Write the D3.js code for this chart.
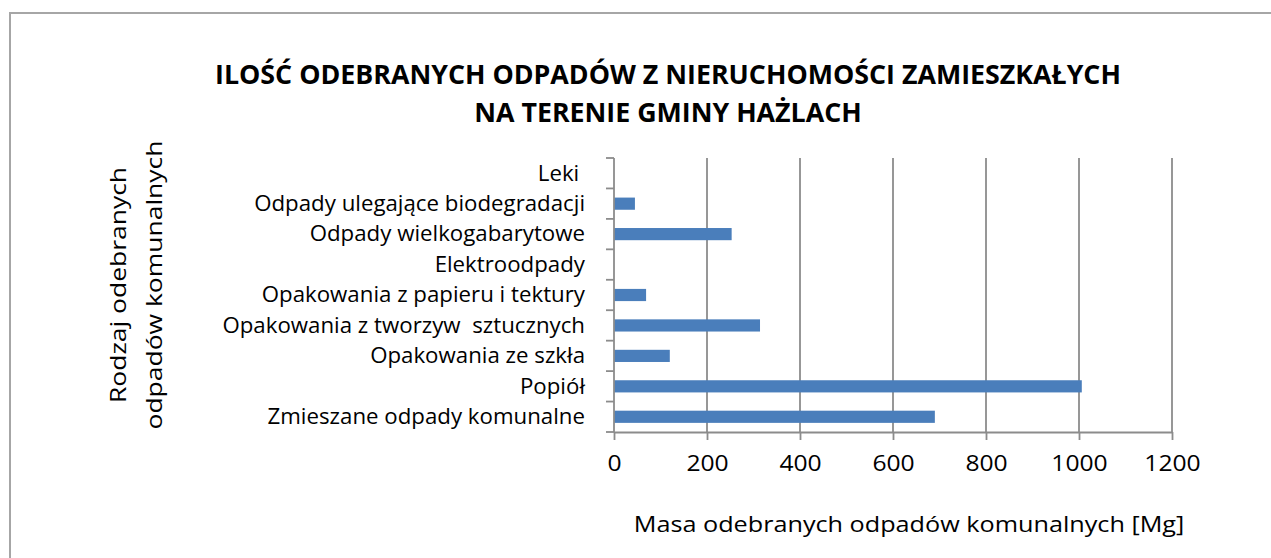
<!DOCTYPE html>
<html>
<head>
<meta charset="utf-8">
<script src="https://cdn.jsdelivr.net/npm/d3@7"></script>
<style>
  body { margin: 0; background: #fff; }
  text { font-family: "Open Sans", sans-serif; fill: #000; }
</style>
</head>
<body>
<div id="chart"></div>
<script>
const categories = [
  'Leki\u00a0',
  'Odpady ulegające biodegradacji',
  'Odpady wielkogabarytowe',
  'Elektroodpady',
  'Opakowania z papieru i tektury',
  'Opakowania z tworzyw\u00a0 sztucznych',
  'Opakowania ze szkła',
  'Popiół',
  'Zmieszane odpady komunalne'
];
const values = [0, 45, 253, 0, 69, 314, 120, 1006, 690];
const xTicks = [0, 200, 400, 600, 800, 1000, 1200];
const titleLines = ['ILOŚĆ ODEBRANYCH ODPADÓW Z NIERUCHOMOŚCI ZAMIESZKAŁYCH', 'NA TERENIE GMINY HAŻLACH'];
const yTitleLines = ['Rodzaj odebranych', 'odpadów komunalnych'];
const xTitle = 'Masa odebranych odpadów komunalnych [Mg]';

const W = 1271, H = 558;
const margin = { top: 158, right: 99, bottom: 126, left: 614 };
const width = W - margin.left - margin.right;
const height = H - margin.top - margin.bottom;

// the source picture is a bit wider than the font, so widen text a little
function stretch(sel, k) {
  sel.each(function () {
    const n = this.getComputedTextLength();
    d3.select(this).attr('textLength', n * k).attr('lengthAdjust', 'spacingAndGlyphs');
  });
}

const svg = d3.select('#chart')
  .append('svg')
  .attr('width', W)
  .attr('height', H);

// outer chart frame (runs off the right and bottom edges)
svg.append('rect')
  .attr('x', 10).attr('y', 13)
  .attr('width', 1400).attr('height', 700)
  .attr('fill', 'none')
  .attr('stroke', '#a6a6a6')
  .attr('stroke-width', 2);

const g = svg.append('g')
  .attr('transform', `translate(${margin.left},${margin.top})`);

const x = d3.scaleLinear().domain([0, 1200]).range([0, width]);
const y = d3.scaleBand().domain(categories).range([0, height]).paddingInner(0.6).paddingOuter(0.3);
const yb = d3.scaleBand().domain(categories).range([0, height]);

// vertical gridlines
g.append('g')
  .selectAll('line')
  .data(xTicks.slice(1))
  .join('line')
  .attr('x1', d => x(d)).attr('x2', d => x(d))
  .attr('y1', 0).attr('y2', height)
  .attr('stroke', '#8c8c8c')
  .attr('stroke-width', 1.8);

// bars
g.append('g')
  .selectAll('rect')
  .data(values)
  .join('rect')
  .attr('x', x(0))
  .attr('y', (d, i) => y(categories[i]))
  .attr('width', d => x(d) - x(0))
  .attr('height', y.bandwidth())
  .attr('fill', '#4a7ebb');

// x axis
const xAxis = g.append('g')
  .attr('transform', `translate(0,${height})`)
  .call(d3.axisBottom(x).tickValues(xTicks).tickFormat(d3.format('d'))
    .tickSize(8).tickPadding(15).tickSizeOuter(0));
xAxis.select('.domain').attr('stroke', '#8c8c8c').attr('stroke-width', 1.8);
xAxis.selectAll('.tick line').attr('stroke', '#8c8c8c').attr('stroke-width', 1.8);
xAxis.selectAll('.tick text')
  .style('font-family', '"Open Sans", sans-serif')
  .style('font-size', '22px')
  .attr('fill', '#000')
  .call(stretch, 1.12);

// y axis: ticks at band boundaries
g.append('line')
  .attr('x1', 0).attr('x2', 0).attr('y1', 0).attr('y2', height)
  .attr('stroke', '#8c8c8c').attr('stroke-width', 1.8);
g.append('g')
  .selectAll('line')
  .data(categories.concat(['end']))
  .join('line')
  .attr('x1', -8).attr('x2', 0)
  .attr('y1', (d, i) => i < categories.length ? yb(d) : height)
  .attr('y2', (d, i) => i < categories.length ? yb(d) : height)
  .attr('stroke', '#8c8c8c').attr('stroke-width', 1.8);

// category labels
g.append('g')
  .selectAll('text')
  .data(categories)
  .join('text')
  .attr('x', -29)
  .attr('y', d => yb(d) + yb.bandwidth() / 2)
  .attr('dy', '0.35em')
  .attr('text-anchor', 'end')
  .style('font-size', '21px')
  .text(d => d)
  .call(stretch, 1.06);

// title
svg.append('g')
  .selectAll('text')
  .data(titleLines)
  .join('text')
  .attr('x', 668)
  .attr('y', (d, i) => 84 + i * 38)
  .attr('text-anchor', 'middle')
  .style('font-size', '26px')
  .style('font-weight', 'bold')
  .text(d => d)
  .call(stretch, 1.03);

// y axis title
svg.append('g')
  .selectAll('text')
  .data(yTitleLines)
  .join('text')
  .attr('transform', (d, i) => `translate(${126 + i * 36},285) rotate(-90)`)
  .attr('text-anchor', 'middle')
  .style('font-size', '21px')
  .text(d => d)
  .call(stretch, 1.26);

// x axis title
svg.append('text')
  .attr('x', 909)
  .attr('y', 532)
  .attr('text-anchor', 'middle')
  .style('font-size', '21px')
  .text(xTitle)
  .call(stretch, 1.2);
</script>
</body>
</html>
